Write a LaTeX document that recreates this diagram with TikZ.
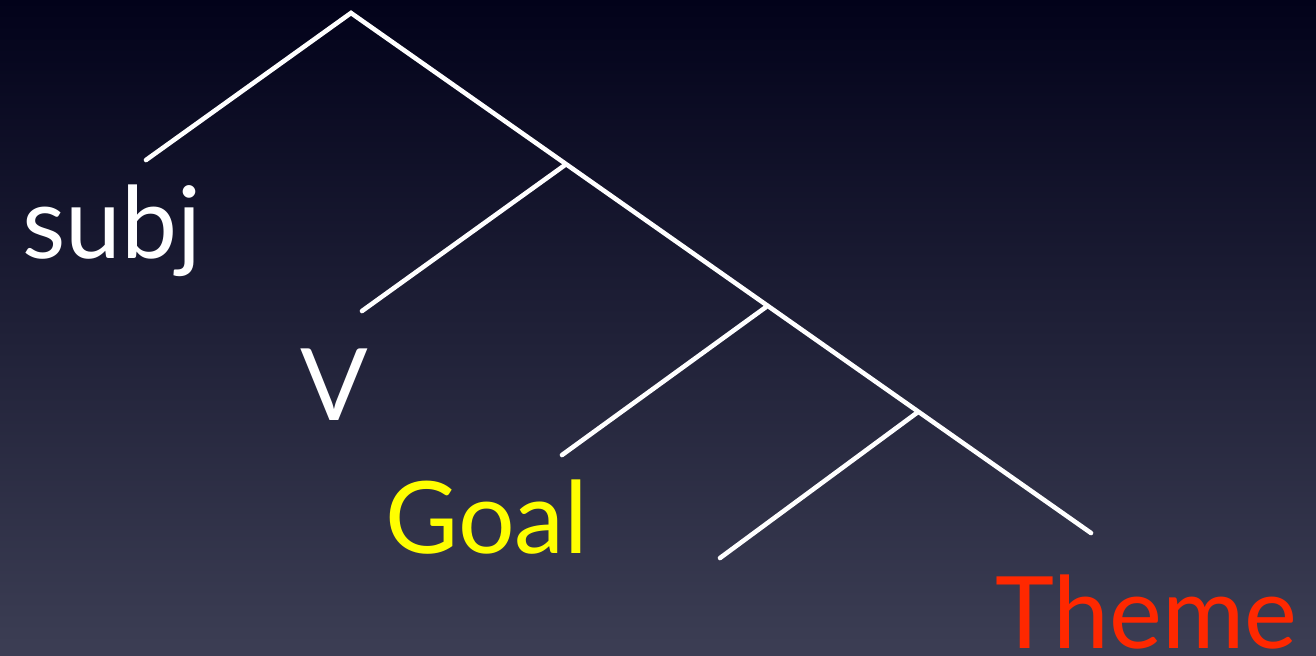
\documentclass[tikz,border=0pt]{standalone}
\usepackage{fontspec}
\setsansfont{Lato}
\usetikzlibrary{positioning}
\definecolor{bgtop}{RGB}{2,2,26}
\definecolor{bgbot}{RGB}{60,62,84}
\definecolor{goalyellow}{RGB}{255,255,0}
\definecolor{themered}{RGB}{255,40,0}

\begin{document}
\begin{tikzpicture}[
  x=0.5pt, y=-0.5pt,
  branch/.style={white, line width=2.3pt, line cap=round},
  leaf/.style={font=\sffamily\fontsize{50}{60}\selectfont, inner sep=0pt, text depth=0pt, anchor=base west}
]
  \shade[top color=bgtop, bottom color=bgbot] (0,0) rectangle (1316,655);
  \useasboundingbox (0,0) rectangle (1316,655);

  % tree points
  \coordinate (root) at (351,13);
  \coordinate (n1) at (565,165);
  \coordinate (n2) at (766,307);
  \coordinate (n3) at (918,412);
  \coordinate (end) at (1091,533);
  \coordinate (l0) at (146,160);
  \coordinate (l1) at (362,311);
  \coordinate (l2) at (562,455);
  \coordinate (l3) at (720,558);

  \draw[branch] (l0) -- (root) -- (end);
  \foreach \a/\b in {n1/l1,n2/l2,n3/l3}
    \draw[branch] (\a) -- (\b);

  % labels
  \node[leaf, white] (subj) at (22,258) {subj};
  \node[leaf, white] (verb) at (300,420) {V};
  \node[leaf, goalyellow] (goal) at (385,553) {Goal};
  \node[leaf, themered] (theme) at (995,648) {Theme};
\end{tikzpicture}
\end{document}
